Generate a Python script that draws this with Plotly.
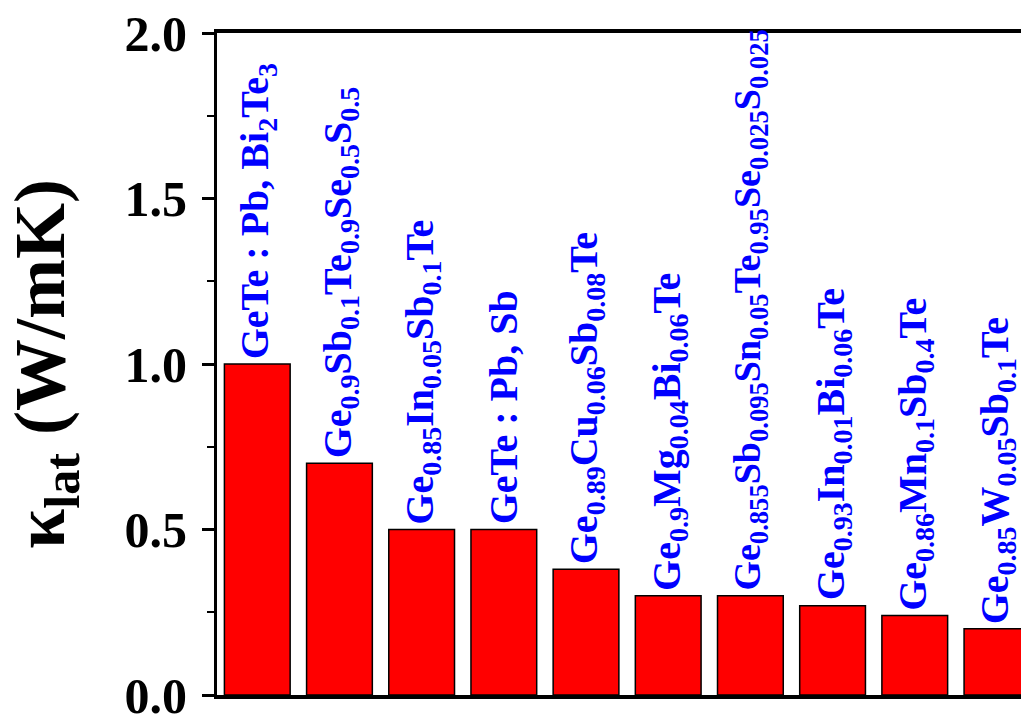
import plotly.graph_objects as go

labels = [
    "GeTe : Pb, Bi<sub>2</sub>Te<sub>3</sub>",
    "Ge<sub>0.9</sub>Sb<sub>0.1</sub>Te<sub>0.9</sub>Se<sub>0.5</sub>S<sub>0.5</sub>",
    "Ge<sub>0.85</sub>In<sub>0.05</sub>Sb<sub>0.1</sub>Te",
    "GeTe : Pb, Sb",
    "Ge<sub>0.89</sub>Cu<sub>0.06</sub>Sb<sub>0.08</sub>Te",
    "Ge<sub>0.9</sub>Mg<sub>0.04</sub>Bi<sub>0.06</sub>Te",
    "Ge<sub>0.855</sub>Sb<sub>0.095</sub>Sn<sub>0.05</sub>Te<sub>0.95</sub>Se<sub>0.025</sub>S<sub>0.025</sub>",
    "Ge<sub>0.93</sub>In<sub>0.01</sub>Bi<sub>0.06</sub>Te",
    "Ge<sub>0.86</sub>Mn<sub>0.1</sub>Sb<sub>0.4</sub>Te",
    "Ge<sub>0.85</sub>W<sub>0.05</sub>Sb<sub>0.1</sub>Te",
]
kappa_lat = [1.0, 0.70, 0.50, 0.50, 0.38, 0.30, 0.30, 0.27, 0.24, 0.20]
ytick_vals = [0.0, 0.5, 1.0, 1.5, 2.0]
ytick_text = ["0.0", "0.5", "1.0", "1.5", "2.0"]

positions = list(range(len(kappa_lat)))
FONT = "Liberation Serif, Times New Roman, serif"

fig = go.Figure()
fig.add_trace(go.Bar(
    x=positions,
    y=kappa_lat,
    marker=dict(color="#FF0000", line=dict(color="black", width=1.5)),
    width=0.8,
    showlegend=False,
    hoverinfo="skip",
))

annotations = []
for xi, yi, lab in zip(positions, kappa_lat, labels):
    # very long formulas are set slightly smaller so they stay inside the frame
    size = 38 if lab.count("<sub>") > 5 else 40
    annotations.append(dict(
        x=xi, y=yi, xref="x", yref="y",
        text=lab,
        textangle=-90,
        showarrow=False,
        xanchor="center", yanchor="bottom",
        yshift=3,
        font=dict(family=FONT, size=size, color="#0000FF", weight="bold"),
    ))

annotations.append(dict(
    x=-0.212, y=0.5, xref="paper", yref="paper",
    text="κ<sub>lat</sub> (W/mK)",
    textangle=-90, showarrow=False,
    xanchor="center", yanchor="middle",
    font=dict(family=FONT, size=72, color="black", weight="bold"),
))

# page body has an 8px margin, so the figure is sized to fit the 1029x720 window
fig.update_layout(
    width=1021, height=712,
    margin=dict(l=209, r=0, t=25, b=25),
    paper_bgcolor="white", plot_bgcolor="white",
    bargap=0.2,
    annotations=annotations,
    font=dict(family=FONT),
    xaxis=dict(
        range=[-0.49, 9.39],
        showline=True, linecolor="black", linewidth=3.5, mirror=True,
        showticklabels=False, ticks="", showgrid=False, zeroline=False,
        automargin=False,
    ),
    yaxis=dict(
        range=[0, 2.0],
        tickvals=ytick_vals, ticktext=ytick_text,
        ticks="outside", ticklen=12, tickwidth=3, tickcolor="black",
        minor=dict(ticks="outside", ticklen=7, tickwidth=2, tickcolor="black", dtick=0.25, tick0=0),
        showline=True, linecolor="black", linewidth=3,
        showgrid=False, zeroline=False,
        tickfont=dict(family=FONT, size=50, color="black", weight="bold"),
        ticklabelstandoff=5,
        ticklabeloverflow="allow",
        automargin=False,
    ),
)

# hide page scrollbars so the full window width shows the figure
fig.write_html(
    "out.html",
    post_script="document.documentElement.style.overflow='hidden';document.body.style.overflow='hidden';",
)
